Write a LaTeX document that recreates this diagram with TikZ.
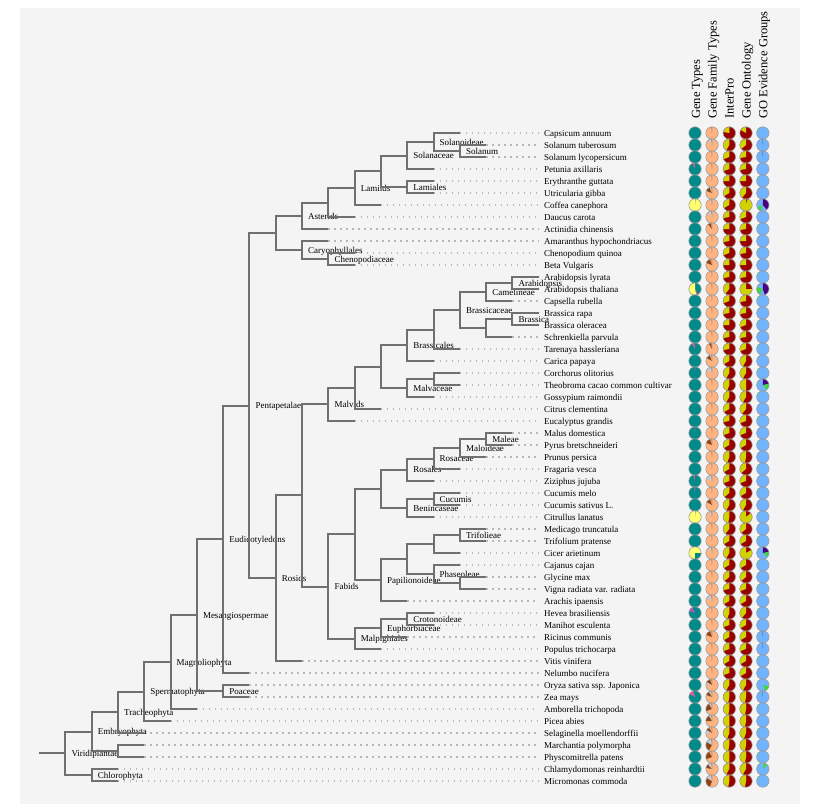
\documentclass[tikz,border=0pt]{standalone}
\usepackage{fontspec}
\setmainfont{Liberation Serif}
\newcommand\fnine{\fontsize{9}{10}\selectfont}
\newcommand\fhdr{\fontsize{12.5}{14}\selectfont}
\definecolor{panel}{HTML}{F4F4F4}
\definecolor{treegrey}{HTML}{707070}
\definecolor{dotgrey}{HTML}{B8B8B8}
\definecolor{tealc}{HTML}{008B8B}
\definecolor{gtyel}{HTML}{FFFF70}
\definecolor{gtpink}{HTML}{E75A9A}
\definecolor{gtmag}{HTML}{C050C0}
\definecolor{famor}{HTML}{FFB380}
\definecolor{fambrown}{HTML}{8B4513}
\definecolor{famblue}{HTML}{B0D0F0}
\definecolor{famdark}{HTML}{505050}
\definecolor{ipred}{HTML}{990000}
\definecolor{ipyel}{HTML}{D2D200}
\definecolor{goblue}{HTML}{70B4FF}
\definecolor{gopurple}{HTML}{4B0082}
\definecolor{gogreen}{HTML}{44D444}
\definecolor{ringc}{HTML}{9A9A9A}
\def\pr{6.2}
\newcommand\drawpie[4]{%
  \fill[#3] (#1,#2) circle[radius=\pr];
  \foreach \sa/\sb/\sc in {#4}{\fill[\sc] (#1,#2) -- ++({\sa-90}:\pr) arc[start angle={\sa-90}, end angle={\sb-90}, radius=\pr] -- cycle;}
  \draw[ringc,line width=0.6pt] (#1,#2) circle[radius=\pr];}
\newcommand\pierow[7]{%
  \pgfmathsetmacro\ry{133+12*(#1-1)}
  \pgfmathsetmacro\yA{360-#5}
  \pgfmathsetmacro\yB{360-#6}
  \drawpie{695}{\ry}{#2}{#3}
  \drawpie{712}{\ry}{famor}{#4,356/360/famdark}
  \drawpie{729.3}{\ry}{ipred}{\yA/360/ipyel}
  \drawpie{746}{\ry}{ipred}{\yB/360/ipyel}
  \drawpie{762.8}{\ry}{goblue}{#7}}
\newcommand\inode[4]{\coordinate (#1) at ({39+26.3*#2},#3);
  \node[intlab] (#1-l) at ({45+26.3*#2},#3+3.2) {#4};}
\newcommand\unode[3]{\coordinate (#1) at ({39+26.3*#2},#3);}
\begin{document}
\begin{tikzpicture}[x=1pt,y=-1pt,
  br/.style={draw=treegrey,line width=2pt},
  dots/.style={draw=dotgrey,line width=1.5pt,dash pattern=on 1.5pt off 4.5pt},
  leaflab/.style={anchor=base west,inner sep=0pt,font=\fnine},
  intlab/.style={anchor=base west,inner sep=0pt,font=\fnine},
  hdr/.style={rotate=90,anchor=base west,inner sep=0pt,font=\fhdr}]
\useasboundingbox (0,0) rectangle (838,804);
\fill[white] (0,0) rectangle (838,804);
\fill[panel] (20,8) rectangle (800,804);

% leaves
\foreach \i/\d/\n in {
1/16/Capsicum annuum,
2/17/Solanum tuberosum,
3/17/Solanum lycopersicum,
4/15/Petunia axillaris,
5/15/Erythranthe guttata,
6/15/Utricularia gibba,
7/13/Coffea canephora,
8/12/Daucus carota,
9/11/Actinidia chinensis,
10/11/Amaranthus hypochondriacus,
11/12/Chenopodium quinoa,
12/12/Beta Vulgaris,
13/19/Arabidopsis lyrata,
14/19/Arabidopsis thaliana,
15/18/Capsella rubella,
16/19/Brassica rapa,
17/19/Brassica oleracea,
18/18/Schrenkiella parvula,
19/16/Tarenaya hassleriana,
20/15/Carica papaya,
21/16/Corchorus olitorius,
22/16/Theobroma cacao common cultivar,
23/15/Gossypium raimondii,
24/13/Citrus clementina,
25/12/Eucalyptus grandis,
26/18/Malus domestica,
27/18/Pyrus bretschneideri,
28/17/Prunus persica,
29/16/Fragaria vesca,
30/15/Ziziphus jujuba,
31/16/Cucumis melo,
32/16/Cucumis sativus L.,
33/15/Citrullus lanatus,
34/17/Medicago truncatula,
35/17/Trifolium pratense,
36/16/Cicer arietinum,
37/16/Cajanus cajan,
38/17/Glycine max,
39/17/Vigna radiata var. radiata,
40/14/Arachis ipaensis,
41/15/Hevea brasiliensis,
42/15/Manihot esculenta,
43/14/Ricinus communis,
44/13/Populus trichocarpa,
45/10/Vitis vinifera,
46/8/Nelumbo nucifera,
47/8/Oryza sativa ssp. Japonica,
48/8/Zea mays,
49/6/Amborella trichopoda,
50/5/Picea abies,
51/4/Selaginella moellendorffii,
52/4/Marchantia polymorpha,
53/4/Physcomitrella patens,
54/3/Chlamydomonas reinhardtii,
55/3/Micromonas commoda}{
  \pgfmathsetmacro\ly{133+12*(\i-1)}
  \pgfmathsetmacro\lx{39+26.3*\d}
  \coordinate (l\i) at (\lx,\ly);
  \coordinate (e\i) at (538.7,\ly);
  \node[leaflab] (t\i) at (544,\ly+3.2) {\n};
  \draw[dots] (l\i) -- (e\i);
}

% internal nodes
\unode{root}{0}{753.3}
\inode{vir}{1}{753.3}{Viridiplantae}
\inode{emb}{2}{731.6}{Embryophyta}
\inode{chl}{2}{775}{Chlorophyta}
\inode{tra}{3}{712.3}{Tracheophyta}
\unode{ua}{3}{751}
\inode{spe}{4}{691.5}{Spermatophyta}
\inode{mag}{5}{662}{Magnoliophyta}
\inode{mes}{6}{615.1}{Mesangiospermae}
\inode{eud}{7}{539.3}{Eudicotyledons}
\inode{poa}{7}{691}{Poaceae}
\inode{pen}{8}{405.5}{Pentapetalae}
\unode{ub}{9}{232.9}
\inode{ros}{9}{578.2}{Rosids}
\inode{ast}{10}{215.8}{Asterids}
\inode{car}{10}{250}{Caryophyllales}
\unode{uc}{10}{495.4}
\unode{ud}{11}{202.6}
\inode{chen}{11}{259}{Chenopodiaceae}
\inode{malv}{11}{404.4}{Malvids}
\inode{fab}{11}{586.5}{Fabids}
\inode{lamd}{12}{188.1}{Lamiids}
\unode{ue}{12}{387.8}
\unode{uf}{12}{534.4}
\inode{malp}{12}{638.5}{Malpighiales}
\unode{ug}{13}{171.25}
\unode{uh}{13}{366.6}
\unode{ui}{13}{488.9}
\inode{pap}{13}{580}{Papilionoideae}
\inode{eup}{13}{628}{Euphorbiaceae}
\inode{sol}{14}{155.5}{Solanaceae}
\inode{lam}{14}{187}{Lamiales}
\inode{brl}{14}{345.25}{Brassicales}
\inode{mlc}{14}{388}{Malvaceae}
\inode{rosl}{14}{469.75}{Rosales}
\inode{ben}{14}{508}{Benincaseae}
\unode{uj}{14}{559}
\inode{cro}{14}{619}{Crotonoideae}
\inode{sold}{15}{142}{Solanoideae}
\unode{uk}{15}{329.5}
\unode{ul}{15}{379}
\inode{rosc}{15}{458.5}{Rosaceae}
\inode{cuc}{15}{499}{Cucumis}
\unode{um}{15}{544}
\inode{pha}{15}{574}{Phaseoleae}
\inode{solm}{16}{151}{Solanum}
\inode{brc}{16}{310}{Brassicaceae}
\inode{malo}{16}{448}{Maloideae}
\inode{tri}{16}{535}{Trifolieae}
\unode{un}{16}{583}
\inode{cam}{17}{292}{Camelineae}
\unode{uo}{17}{328}
\inode{male}{17}{439}{Maleae}
\inode{ara}{18}{283}{Arabidopsis}
\inode{bra}{18}{319}{Brassica}

% edges
\foreach \p/\c in {root/vir, vir/emb, vir/chl, chl/l54, chl/l55, emb/tra, emb/ua,
  ua/l52, ua/l53, tra/spe, tra/l51, spe/mag, spe/l50, mag/mes, mag/l49,
  mes/eud, mes/poa, poa/l47, poa/l48, eud/pen, eud/l46, pen/ub, pen/ros,
  ub/ast, ub/car, ast/ud, ast/l9, ud/lamd, ud/l8, lamd/ug, lamd/l7,
  ug/sol, ug/lam, sol/sold, sol/l4, sold/l1, sold/solm, solm/l2, solm/l3,
  lam/l5, lam/l6, car/l10, car/chen, chen/l11, chen/l12,
  ros/uc, ros/l45, uc/malv, uc/fab, malv/ue, malv/l25, ue/uh, ue/l24,
  uh/brl, uh/mlc, brl/uk, brl/l20, uk/brc, uk/l19, brc/cam, brc/uo,
  cam/ara, cam/l15, ara/l13, ara/l14, uo/bra, uo/l18, bra/l16, bra/l17,
  mlc/ul, mlc/l23, ul/l21, ul/l22,
  fab/uf, fab/malp, uf/ui, uf/pap, ui/rosl, ui/ben, rosl/rosc, rosl/l30,
  rosc/malo, rosc/l29, malo/male, malo/l28, male/l26, male/l27,
  ben/cuc, ben/l33, cuc/l31, cuc/l32, pap/uj, pap/l40, uj/um, uj/pha,
  um/tri, um/l36, tri/l34, tri/l35, pha/l37, pha/un, un/l38, un/l39,
  malp/eup, malp/l44, eup/cro, eup/l43, cro/l41, cro/l42}{
  \draw[br] (\p) |- (\c);
}

% headers
\node[hdr] (h1) at (700,119) {Gene Types};
\node[hdr] (h2) at (716.5,119) {Gene Family Types};
\node[hdr] (h3) at (733.5,119) {InterPro};
\node[hdr] (h4) at (750.5,119) {Gene Ontology};
\node[hdr] (h5) at (767.3,119) {GO Evidence Groups};

% pies
\pierow{1}{tealc}{0/1/tealc}{0/1/famor}{80}{60}{0/1/goblue}
\pierow{2}{tealc}{0/1/tealc}{325/350/famblue}{150}{130}{357/360/famdark}
\pierow{3}{tealc}{0/1/tealc}{0/1/famor}{110}{100}{357/360/famdark}
\pierow{4}{tealc}{335/355/gtpink}{0/1/famor}{110}{100}{0/1/goblue}
\pierow{5}{tealc}{0/1/tealc}{0/1/famor}{90}{90}{0/1/goblue}
\pierow{6}{tealc}{0/1/tealc}{290/335/fambrown,335/350/famblue}{120}{140}{0/1/goblue}
\pierow{7}{gtyel}{0/4/famdark}{335/350/famblue}{120}{345}{0/140/gopurple,200/245/gogreen}
\pierow{8}{tealc}{0/1/tealc}{320/350/famblue}{100}{110}{0/1/goblue}
\pierow{9}{tealc}{0/1/tealc}{320/345/fambrown}{90}{100}{0/1/goblue}
\pierow{10}{tealc}{0/1/tealc}{0/1/famor}{100}{90}{0/1/goblue}
\pierow{11}{tealc}{0/1/tealc}{0/1/famor}{110}{100}{0/1/goblue}
\pierow{12}{tealc}{0/1/tealc}{290/340/fambrown}{90}{90}{0/1/goblue}
\pierow{13}{tealc}{0/1/tealc}{0/1/famor}{100}{100}{0/1/goblue}
\pierow{14}{tealc}{150/168/gtpink,168/360/gtyel}{0/1/famor}{140}{270}{0/160/gopurple,210/290/gogreen}
\pierow{15}{tealc}{0/1/tealc}{0/1/famor}{110}{100}{0/1/goblue}
\pierow{16}{tealc}{0/1/tealc}{0/1/famor}{100}{100}{0/1/goblue}
\pierow{17}{tealc}{0/1/tealc}{0/1/famor}{90}{110}{0/1/goblue}
\pierow{18}{tealc}{0/1/tealc}{0/1/famor}{100}{100}{0/1/goblue}
\pierow{19}{tealc}{330/355/gtpink}{330/350/fambrown}{100}{110}{0/1/goblue}
\pierow{20}{tealc}{0/1/tealc}{300/340/fambrown,340/352/famblue}{120}{150}{0/1/goblue}
\pierow{21}{tealc}{355/360/gtpink}{300/340/famblue}{150}{150}{0/1/goblue}
\pierow{22}{tealc}{0/1/tealc}{0/1/famor}{160}{180}{0/80/gopurple,80/140/gogreen}
\pierow{23}{tealc}{0/1/tealc}{0/1/famor}{150}{150}{0/1/goblue}
\pierow{24}{tealc}{0/1/tealc}{0/1/famor}{120}{140}{0/1/goblue}
\pierow{25}{tealc}{0/1/tealc}{0/1/famor}{100}{110}{0/1/goblue}
\pierow{26}{tealc}{355/360/gtpink}{0/1/famor}{110}{110}{0/1/goblue}
\pierow{27}{tealc}{0/1/tealc}{290/340/fambrown}{120}{120}{0/1/goblue}
\pierow{28}{tealc}{0/1/tealc}{0/1/famor}{160}{170}{0/1/goblue}
\pierow{29}{tealc}{0/1/tealc}{0/1/famor}{120}{130}{0/1/goblue}
\pierow{30}{tealc}{345/358/gtpink}{300/345/famblue}{110}{110}{0/1/goblue}
\pierow{31}{tealc}{352/360/gtpink}{0/1/famor}{130}{120}{0/1/goblue}
\pierow{32}{tealc}{0/1/tealc}{300/340/fambrown}{150}{150}{0/1/goblue}
\pierow{33}{gtyel}{0/4/famdark}{330/350/famblue}{170}{310}{0/1/goblue}
\pierow{34}{tealc}{0/1/tealc}{0/1/famor}{140}{130}{0/1/goblue}
\pierow{35}{tealc}{0/1/tealc}{0/1/famor}{120}{120}{0/1/goblue}
\pierow{36}{gtyel}{90/180/tealc}{330/350/famblue}{150}{300}{0/80/gopurple,80/130/gogreen}
\pierow{37}{tealc}{0/1/tealc}{0/1/famor}{120}{120}{0/1/goblue}
\pierow{38}{tealc}{0/1/tealc}{0/1/famor}{130}{130}{0/1/goblue}
\pierow{39}{tealc}{0/1/tealc}{0/1/famor}{100}{110}{0/1/goblue}
\pierow{40}{tealc}{0/1/tealc}{310/345/famblue}{120}{120}{0/1/goblue}
\pierow{41}{tealc}{290/335/gtmag}{0/1/famor}{160}{140}{0/1/goblue}
\pierow{42}{tealc}{0/1/tealc}{0/1/famor}{110}{120}{0/1/goblue}
\pierow{43}{tealc}{0/1/tealc}{290/340/fambrown}{120}{120}{357/360/famdark}
\pierow{44}{tealc}{0/1/tealc}{0/1/famor}{110}{110}{357/360/famdark}
\pierow{45}{tealc}{0/1/tealc}{0/1/famor}{120}{120}{0/1/goblue}
\pierow{46}{tealc}{0/1/tealc}{0/1/famor}{110}{120}{0/1/goblue}
\pierow{47}{tealc}{0/1/tealc}{280/300/famblue,300/340/fambrown}{150}{150}{100/160/gogreen}
\pierow{48}{tealc}{300/345/gtpink}{290/330/fambrown,330/350/famblue}{170}{170}{357/360/famdark}
\pierow{49}{tealc}{0/1/tealc}{250/330/fambrown,330/350/famblue}{170}{170}{0/1/goblue}
\pierow{50}{tealc}{0/1/tealc}{270/330/fambrown,330/350/famblue}{180}{170}{0/1/goblue}
\pierow{51}{tealc}{0/1/tealc}{270/300/famblue,300/330/fambrown}{160}{160}{0/1/goblue}
\pierow{52}{tealc}{0/1/tealc}{210/300/fambrown,300/345/famblue}{170}{170}{0/1/goblue}
\pierow{53}{tealc}{0/1/tealc}{250/330/fambrown}{180}{170}{0/1/goblue}
\pierow{54}{tealc}{0/1/tealc}{280/320/fambrown,320/350/famblue}{150}{150}{10/50/gogreen}
\pierow{55}{tealc}{0/1/tealc}{200/300/fambrown,300/340/famblue}{170}{170}{0/1/goblue}
\end{tikzpicture}
\end{document}
